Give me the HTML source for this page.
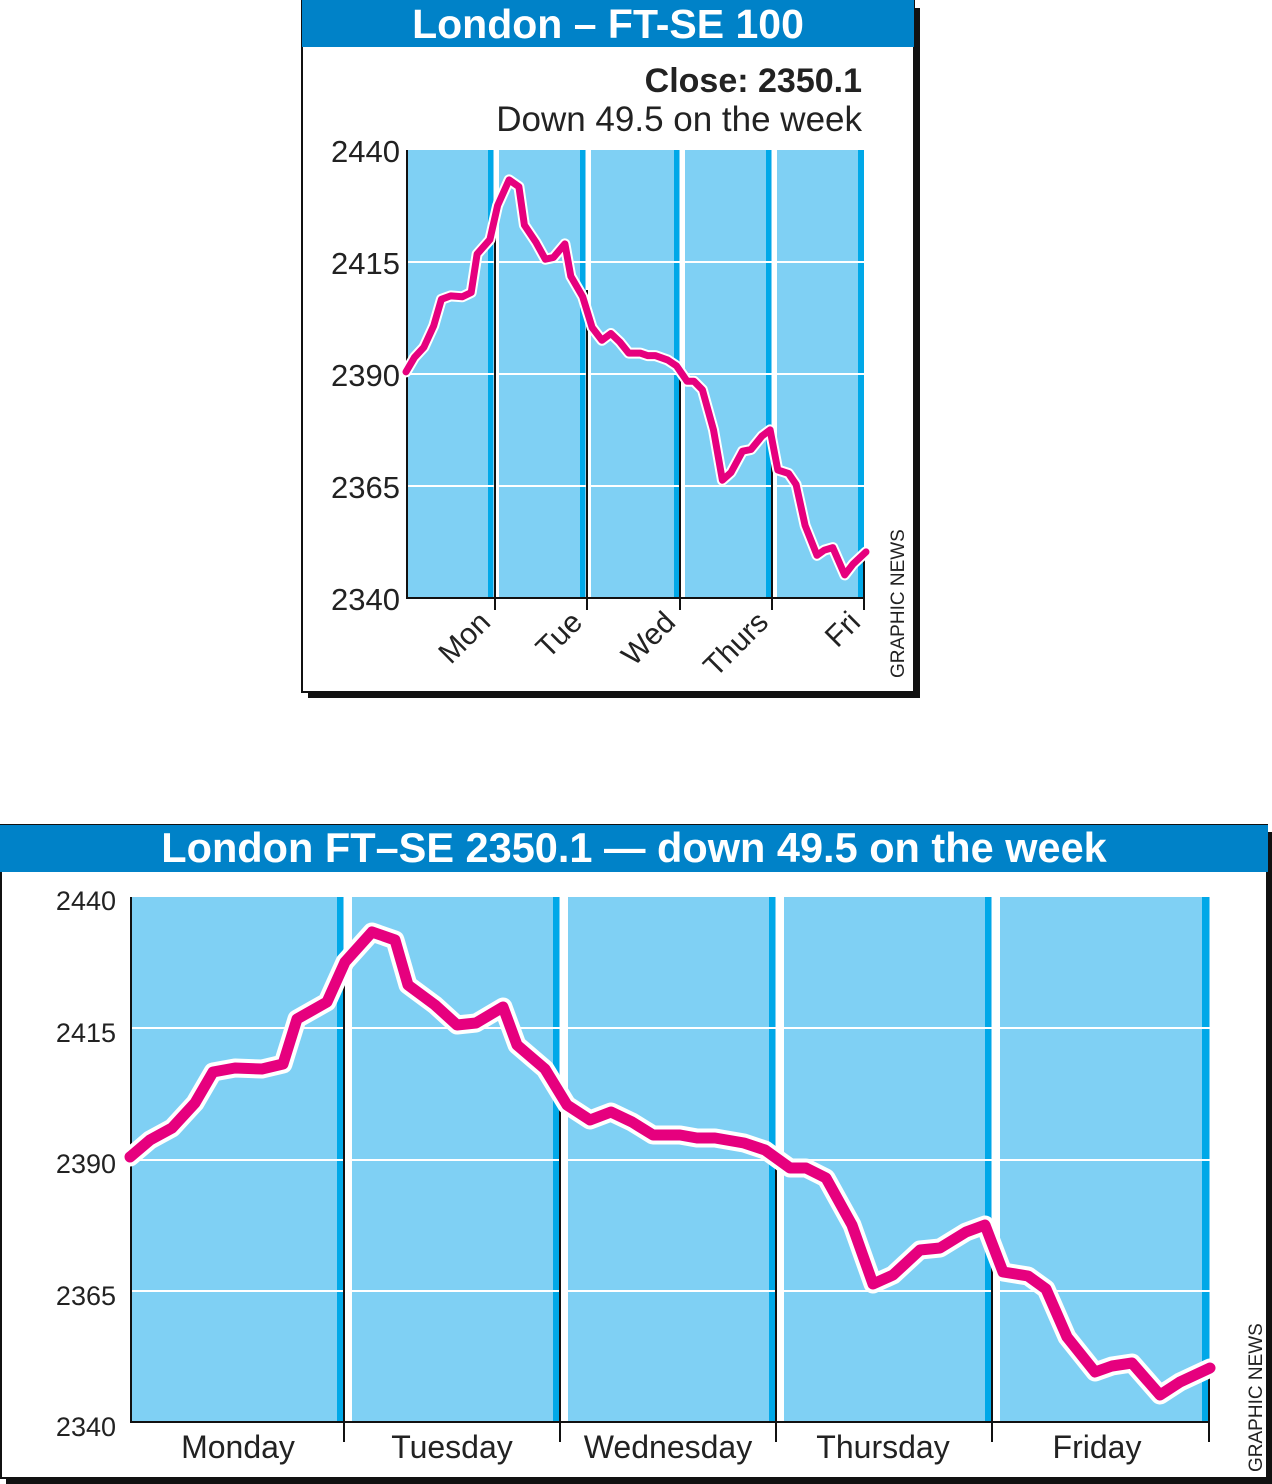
<!DOCTYPE html><html><head><style>body{margin:0;background:#fff}svg{display:block}text{font-family:"Liberation Sans",Arial,sans-serif}</style></head><body>
<svg width="1272" height="1484" viewBox="0 0 1272 1484" xmlns="http://www.w3.org/2000/svg">
<defs>
<polyline id="d" points="130,1157 150,1140 172,1128 195,1103 213,1072 235,1068 262,1069 283,1064 297,1019 327,1002 345,962 372,932 395,940 408,985 435,1005 457,1025 476,1023 503,1007 517,1045 545,1069 567,1105 590,1120 611,1112 632,1122 653,1135 680,1135 697,1138 715,1138 744,1143 765,1150 790,1168 806,1168 826,1178 852,1225 873,1284 893,1275 920,1250 940,1248 966,1232 985,1225 1003,1272 1028,1276 1046,1289 1067,1337 1095,1372 1112,1366 1132,1363 1160,1395 1180,1382 1210,1368" fill="none" stroke-linejoin="round" stroke-linecap="round"/>
<polyline id="t" points="406,371.9 414.5,357.4 423.9,347.2 433.7,325.8 441.4,299.3 450.7,295.9 462.2,296.8 471.2,292.5 477.1,254.1 489.9,239.6 497.6,205.5 509.1,179.9 518.9,186.7 524.4,225.1 535.9,242.2 545.3,259.2 553.4,257.5 564.9,243.9 570.8,276.3 582.7,296.8 592.1,327.5 601.9,340.3 610.9,333.5 619.8,342 628.7,353.1 640.2,353.1 647.5,355.6 655.2,355.6 667.5,359.9 676.5,365.9 687.1,381.2 693.9,381.2 702.4,389.8 713.5,429.9 722.4,480.2 731,472.5 742.5,451.2 751,449.5 762.1,435.9 770.1,429.9 777.8,470 788.5,473.4 796.1,484.5 805.1,525.5 817,555.3 824.2,550.2 832.8,547.6 844.7,574.9 853.2,563.9 866,551.9" fill="none" stroke-linejoin="round" stroke-linecap="round"/>
</defs>
<!-- TOP -->
<rect x="308" y="8" width="612" height="690" fill="#111"/>
<rect x="302" y="0" width="612" height="692" fill="#fff" stroke="#111" stroke-width="2"/>
<rect x="302" y="0" width="612" height="47" fill="#0082c8"/>
<text x="608" y="38" font-size="41" font-weight="bold" fill="#fff" text-anchor="middle">London – FT-SE 100</text>
<text x="862" y="92" font-size="34" font-weight="bold" fill="#222" text-anchor="end">Close: 2350.1</text>
<text x="862" y="131" font-size="35" fill="#222" text-anchor="end">Down 49.5 on the week</text>
<g fill="#7fd0f4">
<rect x="408" y="150" width="86" height="448"/><rect x="499" y="150" width="87" height="448"/><rect x="591" y="150" width="89" height="448"/><rect x="685" y="150" width="87" height="448"/><rect x="777" y="150" width="87" height="448"/></g>
<g fill="#00a8e8"><rect x="488" y="150" width="5" height="448"/><rect x="580" y="150" width="5" height="448"/><rect x="674" y="150" width="5" height="448"/><rect x="766" y="150" width="5" height="448"/><rect x="858" y="150" width="6" height="448"/></g>
<g stroke="#fff" stroke-width="2"><line x1="408" y1="262" x2="864" y2="262"/><line x1="408" y1="374" x2="864" y2="374"/><line x1="408" y1="486" x2="864" y2="486"/></g>
<g stroke="#111" stroke-width="2"><line x1="407" y1="150" x2="407" y2="599"/><line x1="406" y1="598" x2="864" y2="598"/>
<line x1="495" y1="200" x2="495" y2="610"/><line x1="587" y1="290" x2="587" y2="610"/><line x1="680" y1="365" x2="680" y2="610"/><line x1="772" y1="460" x2="772" y2="610"/><line x1="864" y1="550" x2="864" y2="610"/></g>
<use href="#t" stroke="#fff" stroke-width="11"/>
<use href="#t" stroke="#e6007e" stroke-width="7"/>
<g font-size="31" fill="#222" text-anchor="end"><text x="400" y="162">2440</text><text x="400" y="274">2415</text><text x="400" y="386">2390</text><text x="400" y="498">2365</text><text x="400" y="610">2340</text></g>
<g font-size="30" fill="#222" text-anchor="end">
<text transform="translate(492,624) rotate(-45)">Mon</text><text transform="translate(584,624) rotate(-45)">Tue</text><text transform="translate(677,624) rotate(-45)">Wed</text><text transform="translate(770,624) rotate(-45)">Thurs</text><text transform="translate(862,624) rotate(-45)">Fri</text></g>
<text transform="translate(904,678) rotate(-90)" font-size="19" fill="#222">GRAPHIC NEWS</text>
<!-- BOTTOM -->
<rect x="6" y="832" width="1266" height="652" fill="#111"/>
<rect x="1" y="825" width="1266" height="653" fill="#fff" stroke="#111" stroke-width="2"/>
<rect x="0" y="825" width="1268" height="47" fill="#0082c8"/>
<text x="634" y="862" font-size="41.5" font-weight="bold" fill="#fff" text-anchor="middle">London FT–SE 2350.1 — down 49.5 on the week</text>
<g fill="#7fd0f4"><rect x="132" y="897" width="212" height="525"/><rect x="352" y="897" width="208" height="525"/><rect x="568" y="897" width="208" height="525"/><rect x="784" y="897" width="208" height="525"/><rect x="1000" y="897" width="210" height="525"/></g>
<g fill="#00a8e8"><rect x="337" y="897" width="6" height="525"/><rect x="553" y="897" width="6" height="525"/><rect x="769" y="897" width="6" height="525"/><rect x="985" y="897" width="6" height="525"/><rect x="1202" y="897" width="7" height="525"/></g>
<g stroke="#fff" stroke-width="2"><line x1="132" y1="1028" x2="1210" y2="1028"/><line x1="132" y1="1160" x2="1210" y2="1160"/><line x1="132" y1="1291" x2="1210" y2="1291"/></g>
<g stroke="#111" stroke-width="2"><line x1="131" y1="897" x2="131" y2="1423"/><line x1="130" y1="1422" x2="1210" y2="1422"/>
<line x1="344" y1="960" x2="344" y2="1442"/><line x1="560" y1="1090" x2="560" y2="1442"/><line x1="776" y1="1160" x2="776" y2="1442"/><line x1="992" y1="1245" x2="992" y2="1442"/><line x1="1209" y1="1360" x2="1209" y2="1442"/></g>
<use href="#d" stroke="#fff" stroke-width="19"/>
<use href="#d" stroke="#e6007e" stroke-width="11"/>
<g font-size="27" fill="#222" text-anchor="end"><text x="116" y="910">2440</text><text x="116" y="1042">2415</text><text x="116" y="1173">2390</text><text x="116" y="1305">2365</text><text x="116" y="1436">2340</text></g>
<g font-size="32" fill="#222" text-anchor="middle"><text x="238" y="1458">Monday</text><text x="452" y="1458">Tuesday</text><text x="668" y="1458">Wednesday</text><text x="883" y="1458">Thursday</text><text x="1097" y="1458">Friday</text></g>
<text transform="translate(1262,1472) rotate(-90)" font-size="19" fill="#222">GRAPHIC NEWS</text>
</svg></body></html>
